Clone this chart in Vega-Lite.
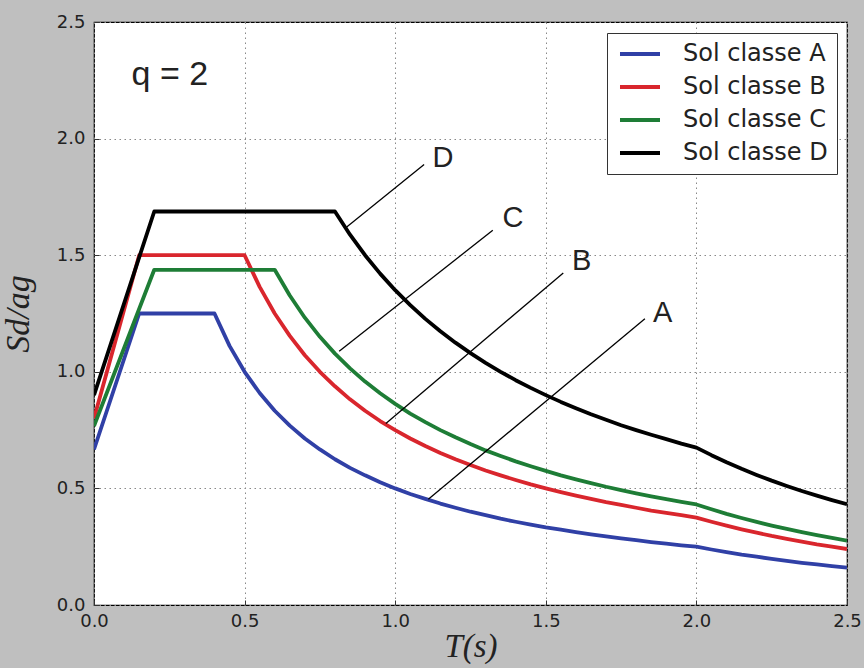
{
  "$schema": "https://vega.github.io/schema/vega-lite/v6.json",
  "width": 753,
  "height": 583,
  "autosize": {"type": "none"},
  "padding": {"left": 94, "top": 22, "right": 17, "bottom": 63},
  "background": "#bfbfbf",
  "view": {"fill": "white", "stroke": "black", "strokeWidth": 1.2},
  "datasets": {
    "curves": [
      {"s": "Sol classe A", "T": 0, "v": 0.667},
      {"s": "Sol classe A", "T": 0.15, "v": 1.25},
      {"s": "Sol classe A", "T": 0.4, "v": 1.25},
      {"s": "Sol classe A", "T": 0.45, "v": 1.111},
      {"s": "Sol classe A", "T": 0.5, "v": 1.0},
      {"s": "Sol classe A", "T": 0.55, "v": 0.909},
      {"s": "Sol classe A", "T": 0.6, "v": 0.833},
      {"s": "Sol classe A", "T": 0.65, "v": 0.769},
      {"s": "Sol classe A", "T": 0.7, "v": 0.714},
      {"s": "Sol classe A", "T": 0.75, "v": 0.667},
      {"s": "Sol classe A", "T": 0.8, "v": 0.625},
      {"s": "Sol classe A", "T": 0.85, "v": 0.588},
      {"s": "Sol classe A", "T": 0.9, "v": 0.556},
      {"s": "Sol classe A", "T": 0.95, "v": 0.526},
      {"s": "Sol classe A", "T": 1.0, "v": 0.5},
      {"s": "Sol classe A", "T": 1.05, "v": 0.476},
      {"s": "Sol classe A", "T": 1.1, "v": 0.455},
      {"s": "Sol classe A", "T": 1.15, "v": 0.435},
      {"s": "Sol classe A", "T": 1.2, "v": 0.417},
      {"s": "Sol classe A", "T": 1.25, "v": 0.4},
      {"s": "Sol classe A", "T": 1.3, "v": 0.385},
      {"s": "Sol classe A", "T": 1.35, "v": 0.37},
      {"s": "Sol classe A", "T": 1.4, "v": 0.357},
      {"s": "Sol classe A", "T": 1.45, "v": 0.345},
      {"s": "Sol classe A", "T": 1.5, "v": 0.333},
      {"s": "Sol classe A", "T": 1.55, "v": 0.323},
      {"s": "Sol classe A", "T": 1.6, "v": 0.3125},
      {"s": "Sol classe A", "T": 1.65, "v": 0.303},
      {"s": "Sol classe A", "T": 1.7, "v": 0.294},
      {"s": "Sol classe A", "T": 1.75, "v": 0.286},
      {"s": "Sol classe A", "T": 1.8, "v": 0.278},
      {"s": "Sol classe A", "T": 1.85, "v": 0.27},
      {"s": "Sol classe A", "T": 1.9, "v": 0.263},
      {"s": "Sol classe A", "T": 1.95, "v": 0.256},
      {"s": "Sol classe A", "T": 2.0, "v": 0.25},
      {"s": "Sol classe A", "T": 2.05, "v": 0.238},
      {"s": "Sol classe A", "T": 2.1, "v": 0.227},
      {"s": "Sol classe A", "T": 2.15, "v": 0.216},
      {"s": "Sol classe A", "T": 2.2, "v": 0.207},
      {"s": "Sol classe A", "T": 2.25, "v": 0.198},
      {"s": "Sol classe A", "T": 2.3, "v": 0.189},
      {"s": "Sol classe A", "T": 2.35, "v": 0.181},
      {"s": "Sol classe A", "T": 2.4, "v": 0.174},
      {"s": "Sol classe A", "T": 2.45, "v": 0.167},
      {"s": "Sol classe A", "T": 2.5, "v": 0.16},
      {"s": "Sol classe B", "T": 0, "v": 0.8},
      {"s": "Sol classe B", "T": 0.15, "v": 1.5},
      {"s": "Sol classe B", "T": 0.5, "v": 1.5},
      {"s": "Sol classe B", "T": 0.55, "v": 1.364},
      {"s": "Sol classe B", "T": 0.6, "v": 1.25},
      {"s": "Sol classe B", "T": 0.65, "v": 1.154},
      {"s": "Sol classe B", "T": 0.7, "v": 1.071},
      {"s": "Sol classe B", "T": 0.75, "v": 1.0},
      {"s": "Sol classe B", "T": 0.8, "v": 0.938},
      {"s": "Sol classe B", "T": 0.85, "v": 0.882},
      {"s": "Sol classe B", "T": 0.9, "v": 0.833},
      {"s": "Sol classe B", "T": 0.95, "v": 0.789},
      {"s": "Sol classe B", "T": 1.0, "v": 0.75},
      {"s": "Sol classe B", "T": 1.05, "v": 0.714},
      {"s": "Sol classe B", "T": 1.1, "v": 0.682},
      {"s": "Sol classe B", "T": 1.15, "v": 0.652},
      {"s": "Sol classe B", "T": 1.2, "v": 0.625},
      {"s": "Sol classe B", "T": 1.25, "v": 0.6},
      {"s": "Sol classe B", "T": 1.3, "v": 0.577},
      {"s": "Sol classe B", "T": 1.35, "v": 0.556},
      {"s": "Sol classe B", "T": 1.4, "v": 0.536},
      {"s": "Sol classe B", "T": 1.45, "v": 0.517},
      {"s": "Sol classe B", "T": 1.5, "v": 0.5},
      {"s": "Sol classe B", "T": 1.55, "v": 0.484},
      {"s": "Sol classe B", "T": 1.6, "v": 0.469},
      {"s": "Sol classe B", "T": 1.65, "v": 0.455},
      {"s": "Sol classe B", "T": 1.7, "v": 0.441},
      {"s": "Sol classe B", "T": 1.75, "v": 0.429},
      {"s": "Sol classe B", "T": 1.8, "v": 0.417},
      {"s": "Sol classe B", "T": 1.85, "v": 0.405},
      {"s": "Sol classe B", "T": 1.9, "v": 0.395},
      {"s": "Sol classe B", "T": 1.95, "v": 0.385},
      {"s": "Sol classe B", "T": 2.0, "v": 0.375},
      {"s": "Sol classe B", "T": 2.05, "v": 0.357},
      {"s": "Sol classe B", "T": 2.1, "v": 0.34},
      {"s": "Sol classe B", "T": 2.15, "v": 0.3245},
      {"s": "Sol classe B", "T": 2.2, "v": 0.31},
      {"s": "Sol classe B", "T": 2.25, "v": 0.296},
      {"s": "Sol classe B", "T": 2.3, "v": 0.2836},
      {"s": "Sol classe B", "T": 2.35, "v": 0.2716},
      {"s": "Sol classe B", "T": 2.4, "v": 0.26},
      {"s": "Sol classe B", "T": 2.45, "v": 0.25},
      {"s": "Sol classe B", "T": 2.5, "v": 0.24},
      {"s": "Sol classe C", "T": 0, "v": 0.767},
      {"s": "Sol classe C", "T": 0.2, "v": 1.4375},
      {"s": "Sol classe C", "T": 0.6, "v": 1.4375},
      {"s": "Sol classe C", "T": 0.65, "v": 1.327},
      {"s": "Sol classe C", "T": 0.7, "v": 1.232},
      {"s": "Sol classe C", "T": 0.75, "v": 1.15},
      {"s": "Sol classe C", "T": 0.8, "v": 1.078},
      {"s": "Sol classe C", "T": 0.85, "v": 1.015},
      {"s": "Sol classe C", "T": 0.9, "v": 0.958},
      {"s": "Sol classe C", "T": 0.95, "v": 0.908},
      {"s": "Sol classe C", "T": 1.0, "v": 0.8625},
      {"s": "Sol classe C", "T": 1.05, "v": 0.821},
      {"s": "Sol classe C", "T": 1.1, "v": 0.784},
      {"s": "Sol classe C", "T": 1.15, "v": 0.75},
      {"s": "Sol classe C", "T": 1.2, "v": 0.719},
      {"s": "Sol classe C", "T": 1.25, "v": 0.69},
      {"s": "Sol classe C", "T": 1.3, "v": 0.663},
      {"s": "Sol classe C", "T": 1.35, "v": 0.639},
      {"s": "Sol classe C", "T": 1.4, "v": 0.616},
      {"s": "Sol classe C", "T": 1.45, "v": 0.595},
      {"s": "Sol classe C", "T": 1.5, "v": 0.575},
      {"s": "Sol classe C", "T": 1.55, "v": 0.556},
      {"s": "Sol classe C", "T": 1.6, "v": 0.539},
      {"s": "Sol classe C", "T": 1.65, "v": 0.523},
      {"s": "Sol classe C", "T": 1.7, "v": 0.507},
      {"s": "Sol classe C", "T": 1.75, "v": 0.493},
      {"s": "Sol classe C", "T": 1.8, "v": 0.479},
      {"s": "Sol classe C", "T": 1.85, "v": 0.466},
      {"s": "Sol classe C", "T": 1.9, "v": 0.454},
      {"s": "Sol classe C", "T": 1.95, "v": 0.442},
      {"s": "Sol classe C", "T": 2.0, "v": 0.431},
      {"s": "Sol classe C", "T": 2.05, "v": 0.4105},
      {"s": "Sol classe C", "T": 2.1, "v": 0.391},
      {"s": "Sol classe C", "T": 2.15, "v": 0.3732},
      {"s": "Sol classe C", "T": 2.2, "v": 0.3564},
      {"s": "Sol classe C", "T": 2.25, "v": 0.3407},
      {"s": "Sol classe C", "T": 2.3, "v": 0.3261},
      {"s": "Sol classe C", "T": 2.35, "v": 0.3124},
      {"s": "Sol classe C", "T": 2.4, "v": 0.2995},
      {"s": "Sol classe C", "T": 2.45, "v": 0.2874},
      {"s": "Sol classe C", "T": 2.5, "v": 0.276},
      {"s": "Sol classe D", "T": 0, "v": 0.9},
      {"s": "Sol classe D", "T": 0.2, "v": 1.6875},
      {"s": "Sol classe D", "T": 0.8, "v": 1.6875},
      {"s": "Sol classe D", "T": 0.85, "v": 1.588},
      {"s": "Sol classe D", "T": 0.9, "v": 1.5},
      {"s": "Sol classe D", "T": 0.95, "v": 1.421},
      {"s": "Sol classe D", "T": 1.0, "v": 1.35},
      {"s": "Sol classe D", "T": 1.05, "v": 1.286},
      {"s": "Sol classe D", "T": 1.1, "v": 1.227},
      {"s": "Sol classe D", "T": 1.15, "v": 1.174},
      {"s": "Sol classe D", "T": 1.2, "v": 1.125},
      {"s": "Sol classe D", "T": 1.25, "v": 1.08},
      {"s": "Sol classe D", "T": 1.3, "v": 1.038},
      {"s": "Sol classe D", "T": 1.35, "v": 1.0},
      {"s": "Sol classe D", "T": 1.4, "v": 0.964},
      {"s": "Sol classe D", "T": 1.45, "v": 0.931},
      {"s": "Sol classe D", "T": 1.5, "v": 0.9},
      {"s": "Sol classe D", "T": 1.55, "v": 0.871},
      {"s": "Sol classe D", "T": 1.6, "v": 0.844},
      {"s": "Sol classe D", "T": 1.65, "v": 0.818},
      {"s": "Sol classe D", "T": 1.7, "v": 0.794},
      {"s": "Sol classe D", "T": 1.75, "v": 0.771},
      {"s": "Sol classe D", "T": 1.8, "v": 0.75},
      {"s": "Sol classe D", "T": 1.85, "v": 0.73},
      {"s": "Sol classe D", "T": 1.9, "v": 0.711},
      {"s": "Sol classe D", "T": 1.95, "v": 0.692},
      {"s": "Sol classe D", "T": 2.0, "v": 0.675},
      {"s": "Sol classe D", "T": 2.05, "v": 0.6425},
      {"s": "Sol classe D", "T": 2.1, "v": 0.6122},
      {"s": "Sol classe D", "T": 2.15, "v": 0.5841},
      {"s": "Sol classe D", "T": 2.2, "v": 0.5579},
      {"s": "Sol classe D", "T": 2.25, "v": 0.5333},
      {"s": "Sol classe D", "T": 2.3, "v": 0.5104},
      {"s": "Sol classe D", "T": 2.35, "v": 0.4889},
      {"s": "Sol classe D", "T": 2.4, "v": 0.4688},
      {"s": "Sol classe D", "T": 2.45, "v": 0.4498},
      {"s": "Sol classe D", "T": 2.5, "v": 0.432}
    ],
    "leaders": [
      {"lab": "A", "x1": 1.11, "y1": 0.453, "x2": 1.829, "y2": 1.228, "tx": 1.888, "ty": 1.252},
      {"lab": "B", "x1": 0.969, "y1": 0.778, "x2": 1.558, "y2": 1.424, "tx": 1.619, "ty": 1.474},
      {"lab": "C", "x1": 0.814, "y1": 1.088, "x2": 1.324, "y2": 1.607, "tx": 1.391, "ty": 1.659},
      {"lab": "D", "x1": 0.839, "y1": 1.621, "x2": 1.096, "y2": 1.889, "tx": 1.159, "ty": 1.915}
    ],
    "note": [{"t": "q = 2", "x": 0.252, "y": 2.273}]
  },
  "layer": [
    {
      "data": {"name": "curves"},
      "mark": {"type": "line", "strokeWidth": 3.8, "strokeJoin": "round", "clip": true},
      "encoding": {
        "x": {
          "field": "T", "type": "quantitative",
          "scale": {"domain": [0, 2.5], "nice": false, "zero": false},
          "axis": {"values": [0, 0.5, 1, 1.5, 2, 2.5], "format": ".1f", "title": "T(s)"}
        },
        "y": {
          "field": "v", "type": "quantitative",
          "scale": {"domain": [0, 2.5], "nice": false},
          "axis": {"values": [0, 0.5, 1, 1.5, 2, 2.5], "format": ".1f", "title": "Sd/ag"}
        },
        "color": {
          "field": "s", "type": "nominal",
          "scale": {
            "domain": ["Sol classe A", "Sol classe B", "Sol classe C", "Sol classe D"],
            "range": ["#3040a6", "#d9262d", "#1e7d36", "#000000"]
          },
          "legend": {
            "title": null,
            "orient": "none",
            "legendX": 513,
            "legendY": 11,
            "symbolType": "M-1.143,0H4.571",
            "symbolSize": 196,
            "symbolStrokeWidth": 4,
            "labelFontSize": 24,
            "labelFont": "DejaVu Sans",
            "labelColor": "#222222",
            "labelOffset": 43,
            "labelLimit": 300,
            "padding": 9,
            "rowPadding": 9,
            "strokeColor": "#333333",
            "fillColor": "white"
          }
        }
      }
    },
    {
      "data": {"name": "leaders"},
      "mark": {"type": "rule", "color": "black", "strokeWidth": 1.3},
      "encoding": {
        "x": {"field": "x1", "type": "quantitative"},
        "y": {"field": "y1", "type": "quantitative"},
        "x2": {"field": "x2"},
        "y2": {"field": "y2"}
      }
    },
    {
      "data": {"name": "leaders"},
      "mark": {"type": "text", "font": "Liberation Sans", "fontSize": 29, "color": "#222222", "align": "center", "baseline": "middle"},
      "encoding": {
        "x": {"field": "tx", "type": "quantitative"},
        "y": {"field": "ty", "type": "quantitative"},
        "text": {"field": "lab"}
      }
    },
    {
      "data": {"name": "note"},
      "mark": {"type": "text", "font": "Liberation Sans", "fontSize": 34, "color": "#222222", "align": "center", "baseline": "middle"},
      "encoding": {
        "x": {"field": "x", "type": "quantitative"},
        "y": {"field": "y", "type": "quantitative"},
        "text": {"field": "t"}
      }
    }
  ],
  "config": {
    "axis": {
      "grid": true,
      "gridColor": "#888888",
      "gridDash": [1.5, 3.5],
      "gridWidth": 1,
      "gridOpacity": 1,
      "domain": false,
      "tickColor": "#333333",
      "tickSize": -5,
      "tickWidth": 1,
      "labelFont": "DejaVu Sans",
      "labelFontSize": 18,
      "labelColor": "#222222",
      "labelFlush": false,
      "labelOverlap": false,
      "titleFont": "Liberation Serif",
      "titleFontStyle": "italic",
      "titleFontWeight": "normal",
      "titleColor": "#222222"
    },
    "axisX": {"labelPadding": 12, "titlePadding": 0, "titleFontSize": 33},
    "axisY": {"labelPadding": 14, "titlePadding": 21, "titleFontSize": 34}
  }
}
